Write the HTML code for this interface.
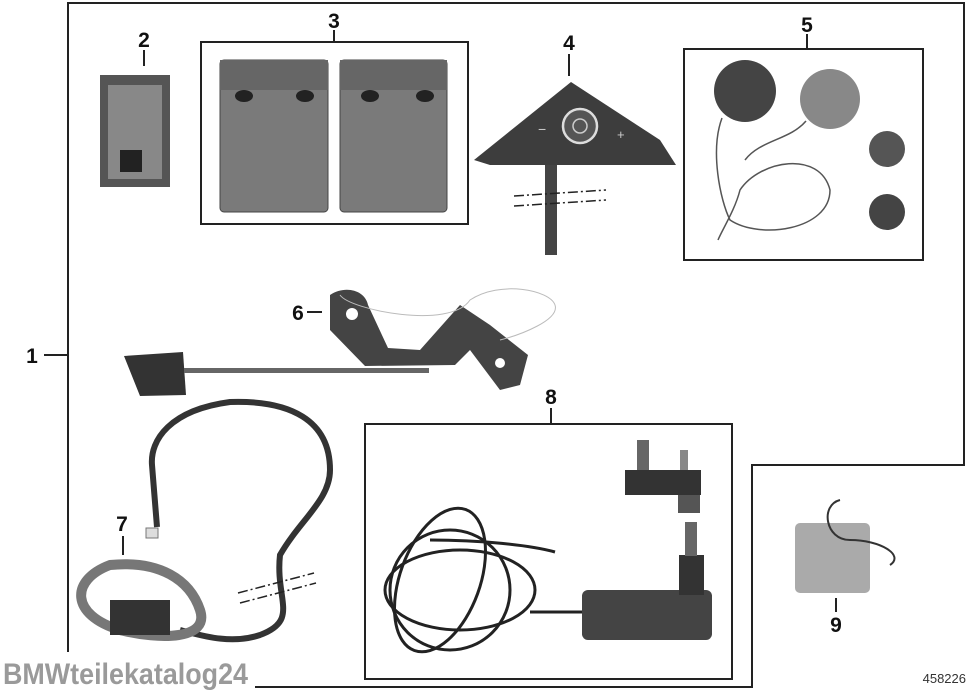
<!DOCTYPE html>
<html><head><meta charset="utf-8"><style>
html,body{margin:0;padding:0;background:#fff}
svg{display:block}
text{font-family:"Liberation Sans",sans-serif}
</style></head><body>
<svg width="980" height="693" viewBox="0 0 980 693" xmlns="http://www.w3.org/2000/svg">
<rect width="980" height="693" fill="#fff"/>
<g fill="none" stroke="#222" stroke-width="2">
<polyline points="68,652 68,3 964,3 964,465 752,465 752,687 255,687"/>
<rect x="201" y="42" width="267" height="182"/>
<rect x="684" y="49" width="239" height="211"/>
<rect x="365" y="424" width="367" height="255"/>
<line x1="44" y1="355" x2="68" y2="355"/>
<line x1="144" y1="50" x2="144" y2="66"/>
<line x1="334" y1="30" x2="334" y2="42"/>
<line x1="569" y1="54" x2="569" y2="76"/>
<line x1="807" y1="34" x2="807" y2="49"/>
<line x1="307" y1="312" x2="322" y2="312"/>
<line x1="123" y1="536" x2="123" y2="555"/>
<line x1="551" y1="408" x2="551" y2="424"/>
<line x1="836" y1="598" x2="836" y2="612"/>
</g>
<g font-weight="bold" font-size="21" fill="#111" text-anchor="middle">
<text x="32" y="363">1</text><text x="144" y="47">2</text><text x="334" y="28">3</text>
<text x="569" y="50">4</text><text x="807" y="32">5</text><text x="298" y="320">6</text>
<text x="122" y="531">7</text><text x="551" y="404">8</text><text x="836" y="632">9</text>
</g>
<text x="966" y="683" font-size="13" fill="#333" text-anchor="end">458226</text>
<text x="3" y="684" font-size="30" font-weight="bold" fill="#9a9a9a" textLength="245" lengthAdjust="spacingAndGlyphs" font-family="Liberation Sans Narrow, Liberation Sans, sans-serif">BMWteilekatalog24</text>

<!-- 2 circuit board -->
<rect x="100" y="75" width="70" height="112" fill="#555"/>
<rect x="108" y="85" width="54" height="94" fill="#888"/>
<rect x="120" y="150" width="22" height="22" fill="#222"/>
<!-- 3 pouches -->
<g fill="#7a7a7a" stroke="#444">
<rect x="220" y="60" width="108" height="152" rx="4"/>
<rect x="340" y="60" width="107" height="152" rx="4"/>
</g>
<g fill="#666"><rect x="220" y="60" width="108" height="30"/><rect x="340" y="60" width="107" height="30"/></g>
<g fill="#222"><ellipse cx="244" cy="96" rx="9" ry="6"/><ellipse cx="305" cy="96" rx="9" ry="6"/><ellipse cx="370" cy="96" rx="9" ry="6"/><ellipse cx="425" cy="96" rx="9" ry="6"/></g>
<!-- 4 remote -->
<polygon points="571,82 474,160 490,165 676,165 660,140" fill="#3d3d3d"/>
<circle cx="580" cy="126" r="17" fill="#555" stroke="#ddd" stroke-width="2.5"/>
<circle cx="580" cy="126" r="7" fill="none" stroke="#ccc" stroke-width="1.5"/>
<text x="538" y="134" fill="#ccc" font-size="14">−</text><text x="617" y="139" fill="#ccc" font-size="13">+</text>
<rect x="545" y="165" width="12" height="90" fill="#444"/>
<g stroke="#222" stroke-width="1.5" stroke-dasharray="10,3,2,3"><line x1="514" y1="196" x2="606" y2="190"/><line x1="514" y1="206" x2="606" y2="200"/></g>
<!-- 5 speakers -->
<circle cx="745" cy="91" r="31" fill="#444"/><circle cx="830" cy="99" r="30" fill="#888"/>
<circle cx="887" cy="149" r="18" fill="#555"/><circle cx="887" cy="212" r="18" fill="#444"/>
<g fill="none" stroke="#555" stroke-width="1.5"><path d="M722,118 C710,150 720,200 730,220 C760,240 830,230 830,190 C820,150 760,160 740,190 C735,210 722,230 718,240"/><path d="M806,121 C790,140 760,140 745,160"/></g>
<!-- 6 mic -->
<path d="M124,356 L183,352 L186,395 L140,396 Z" fill="#333"/>
<rect x="184" y="368" width="245" height="5" fill="#666"/>
<path d="M330,295 C345,285 365,290 368,305 L388,348 L420,350 L460,305 L490,325 L528,355 L520,385 L500,390 L470,350 L455,365 L365,366 L330,330 Z" fill="#444"/>
<circle cx="352" cy="314" r="6" fill="#fff"/><circle cx="500" cy="363" r="5" fill="#fff"/>
<path d="M340,295 C350,310 450,330 470,300 C500,280 550,290 555,305 C560,320 520,335 500,340" fill="none" stroke="#bbb"/>
<!-- 7 cable -->
<g fill="none" stroke="#333" stroke-width="6"><path d="M157,527 L152,465 C150,440 170,410 230,402 C290,400 330,420 330,470 C330,500 300,520 280,555 C275,600 300,620 260,635 C230,645 200,635 180,630"/></g>
<path d="M110,565 C70,580 70,615 120,630 C160,640 210,640 200,610 C190,580 160,560 110,565 Z" fill="none" stroke="#777" stroke-width="10"/>
<rect x="110" y="600" width="60" height="35" fill="#333"/>
<rect x="146" y="528" width="12" height="10" fill="#ddd" stroke="#777"/>
<g stroke="#222" stroke-width="1.5" stroke-dasharray="10,3,2,3"><line x1="238" y1="593" x2="314" y2="573"/><line x1="240" y1="603" x2="316" y2="583"/></g>
<!-- 8 charger -->
<rect x="625" y="470" width="76" height="25" fill="#333"/><rect x="637" y="440" width="12" height="30" fill="#666"/><rect x="680" y="450" width="8" height="20" fill="#888"/><rect x="678" y="495" width="22" height="18" fill="#555"/>
<rect x="582" y="590" width="130" height="50" rx="6" fill="#444"/>
<rect x="679" y="555" width="25" height="40" fill="#333"/><rect x="685" y="522" width="12" height="34" fill="#666"/>
<g fill="none" stroke="#222" stroke-width="3"><ellipse cx="450" cy="590" rx="60" ry="60"/><ellipse cx="460" cy="590" rx="75" ry="40"/><ellipse cx="440" cy="580" rx="40" ry="75" transform="rotate(20 440 580)"/><path d="M530,612 L582,612"/><path d="M430,540 C480,540 530,545 555,552"/></g>
<!-- 9 battery -->
<rect x="795" y="523" width="75" height="70" rx="5" fill="#aaa"/>
<path d="M840,500 C820,505 825,540 850,540 C880,540 905,555 890,565" fill="none" stroke="#333" stroke-width="2"/>
</svg>
</body></html>
